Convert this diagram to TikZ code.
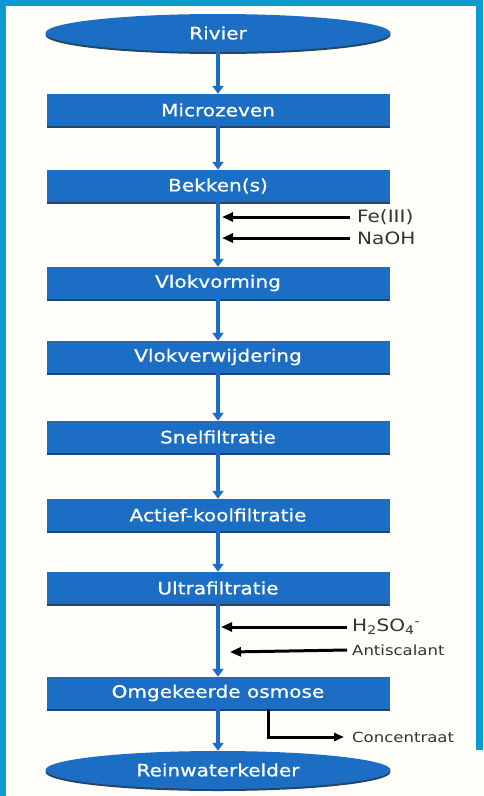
\documentclass[tikz,border=0pt]{standalone}
\usepackage{fontspec}
\setmainfont{DejaVu Sans}[FakeStretch=1.18]
\newfontfamily\stapfont{DejaVu Sans}[FakeStretch=1.18,FakeBold=0.8]
\usetikzlibrary{arrows.meta,shapes.geometric,shadows}
\definecolor{frameblue}{HTML}{0A9BD0}
\definecolor{boxblue}{HTML}{1B6EC3}
\definecolor{paper}{HTML}{FFFEF8}
\begin{document}
\begin{tikzpicture}[x=1pt,y=-1pt,
  stap/.style={rectangle,fill=boxblue,text=white,minimum width=343pt,minimum height=32pt,inner sep=0pt,
    drop shadow={shadow xshift=0pt,shadow yshift=-2pt,fill=boxblue!45!black,opacity=.9},font=\stapfont\fontsize{17}{20}\selectfont},
  eind/.style={ellipse,fill=boxblue,text=white,minimum width=345pt,minimum height=38pt,inner sep=0pt,
    drop shadow={shadow xshift=0pt,shadow yshift=-2pt,fill=boxblue!45!black,opacity=.9},font=\stapfont\fontsize{17}{20}\selectfont},
  stroom/.style={boxblue,line width=3.5pt,-{Triangle[width=11pt,length=8pt]}},
  dosering/.style={black,line width=3pt,-{Triangle[width=9pt,length=11pt]}},
  stof/.style={anchor=west,inner sep=0pt,text=black!80,font=\fontsize{17}{20}\selectfont},
  kleinestof/.style={stof,font=\fontsize{14}{16}\selectfont}]
% achtergrond en kader
\fill [paper] (0,0) rectangle (483,796);
\fill [frameblue] (0,0) rectangle (483,6);
\fill [frameblue] (0,0) rectangle (6,796);
\fill [frameblue] (476,0) rectangle (483,750);
% processtappen
\node [eind] (rivier) at (218,33) {Rivier};
\node [stap] (micro) at (218,110) {Microzeven};
\node [stap] (bekken) at (218,186) {Bekken(s)};
\node [stap] (vlok) at (218,283) {Vlokvorming};
\node [stap] (vlokverw) at (218,357) {Vlokverwijdering};
\node [stap] (snel) at (218,437) {Snelfiltratie};
\node [stap] (actief) at (218,515) {Actief-koolfiltratie};
\node [stap] (ultra) at (218,588) {Ultrafiltratie};
\node [stap] (ro) at (218,693) {Omgekeerde osmose};
\node [eind] (rein) at (218,770) {Reinwaterkelder};
\foreach \a/\b in {rivier/micro,micro/bekken,bekken/vlok,vlok/vlokverw,vlokverw/snel,snel/actief,actief/ultra,ultra/ro,ro/rein}
  \draw [stroom] (\a) -- (\b);
% chemicalien
\node [stof] (fe) at (357,217) {Fe(III)};
\node [stof] (naoh) at (357,238) {NaOH};
\node [stof] (zuur) at (352,627) {H\textsubscript{2}SO\textsubscript{4}\textsuperscript{-}};
\node [kleinestof] (anti) at (352,650) {Antiscalant};
\node [kleinestof] (conc) at (352,737) {Concentraat};
\coordinate (fe-in) at (222,217);
\coordinate (naoh-in) at (222,238);
\coordinate (zuur-in) at (221,627);
\coordinate (anti-in) at (230,652);
\draw [dosering] ([xshift=-7pt]fe.west) -- (fe-in);
\draw [dosering] ([xshift=-7pt]naoh.west) -- (naoh-in);
\draw [dosering] ([xshift=-5pt]zuur.west) -- (zuur-in);
\draw [dosering] ([xshift=-5pt]anti.west) -- (anti-in);
\draw [dosering,-{Triangle[width=8pt,length=10pt]}] ([xshift=50pt]ro.south) |- ([xshift=-8pt]conc.west);
\end{tikzpicture}
\end{document}
